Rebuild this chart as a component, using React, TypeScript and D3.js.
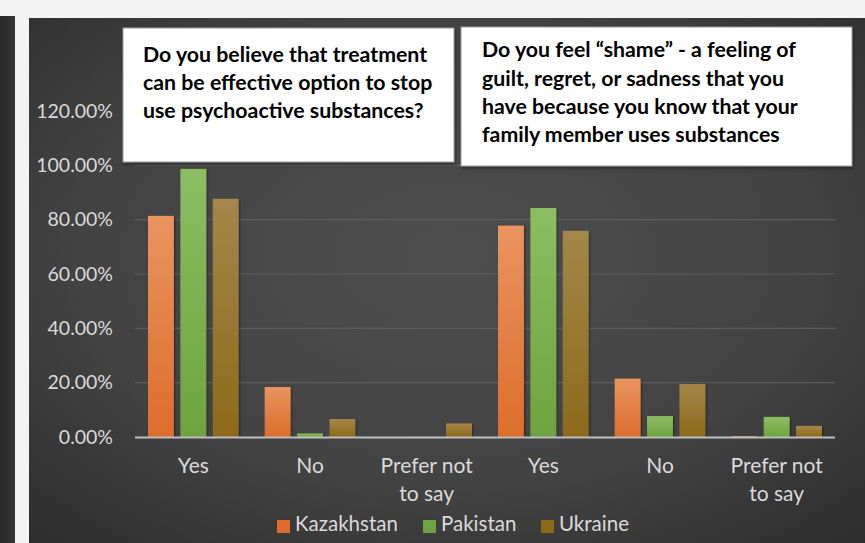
import React from "react";
import * as d3 from "d3";

const categories = ["Yes", "No", "Prefer not to say", "Yes", "No", "Prefer not to say"];
const series = ["Kazakhstan", "Pakistan", "Ukraine"];
const kazakhstan = [0.814, 0.184, 0.0, 0.778, 0.215, 0.003];
const pakistan = [0.987, 0.013, 0.0, 0.843, 0.077, 0.074];
const ukraine = [0.877, 0.066, 0.05, 0.759, 0.195, 0.041];
const yTicks = [0, 0.2, 0.4, 0.6, 0.8, 1.0, 1.2];
const question1 = ["Do you believe that treatment", "can be effective option to stop", "use psychoactive substances?"];
const question2 = [
  "Do you feel \u201Cshame\u201D - a feeling of",
  "guilt, regret, or sadness that you",
  "have because you know that your",
  "family member uses substances",
];

const W = 865;
const H = 543;
const FONT = "Lato, 'Open Sans', sans-serif";
const colors = [
  ["#ea9460", "#dc6d2c"],
  ["#8dbd64", "#6ea33f"],
  ["#a4864a", "#8c6a1a"],
];

export default function App() {
  const values = [kazakhstan, pakistan, ukraine];
  const x = d3.scaleBand<number>().domain(d3.range(categories.length)).range([135, 835]);
  const xs = d3.scaleBand<number>().domain([0, 1, 2]).range([13, x.bandwidth() - 13]).paddingInner(0.2);
  const y = d3.scaleLinear().domain([0, 1.2]).range([437, 111]);
  const fmt = (v: number) => d3.format(".2%")(v);

  return (
    <svg width={W} height={H} style={{ position: "absolute", left: 0, top: 0, display: "block" }}>
      <defs>
        <radialGradient id="bg" cx="0.5" cy="0.45" r="0.75">
          <stop offset="0" stopColor="#4e4e4e" />
          <stop offset="0.6" stopColor="#424242" />
          <stop offset="1" stopColor="#2c2c2c" />
        </radialGradient>
        <linearGradient id="strip" x1="0" x2="1" y1="0" y2="0">
          <stop offset="0" stopColor="#2a2a2a" />
          <stop offset="1" stopColor="#333333" />
        </linearGradient>
        {colors.map((c, i) => (
          <linearGradient key={i} id={`g${i}`} x1="0" x2="0" y1="0" y2="1">
            <stop offset="0" stopColor={c[0]} />
            <stop offset="1" stopColor={c[1]} />
          </linearGradient>
        ))}
        <filter id="shadow" x="-20%" y="-20%" width="140%" height="140%">
          <feDropShadow dx="1" dy="1" stdDeviation="1.2" floodColor="#000" floodOpacity="0.45" />
        </filter>
        <filter id="boxshadow" x="-5%" y="-5%" width="110%" height="115%">
          <feDropShadow dx="1" dy="2" stdDeviation="1.5" floodColor="#000" floodOpacity="0.4" />
        </filter>
      </defs>
      <rect x={0} y={0} width={W} height={H} fill="#f3f3f3" />
      <rect x={0} y={16} width={15} height={H - 16} fill="url(#strip)" />
      <rect x={29} y={18} width={W - 29} height={H - 18} fill="url(#bg)" />

      {yTicks.filter((t) => t > 0 && t <= 1).map((t) => (
        <line key={t} x1={135} x2={835} y1={y(t)} y2={y(t)} stroke="#5c5c5c" strokeWidth={1.2} />
      ))}

      {yTicks.map((t) => (
        <text key={t} x={113} y={y(t)} dy="0.35em" textAnchor="end" fill="#dadada" fontFamily={FONT} fontSize={19.5}>
          {fmt(t)}
        </text>
      ))}

      {values.map((vals, s) =>
        vals.map((v, i) => {
          const bx = (x(i) as number) + (xs(s) as number);
          return (
            <rect
              key={`${s}-${i}`}
              x={bx}
              y={y(v)}
              width={xs.bandwidth()}
              height={437 - y(v)}
              fill={`url(#g${s})`}
              filter="url(#shadow)"
            />
          );
        })
      )}

      <line x1={135} x2={835} y1={437.5} y2={437.5} stroke="#bfbfbf" strokeWidth={2} />

      {categories.map((c, i) => {
        const cx = (x(i) as number) + x.bandwidth() / 2;
        const lines = c === "Prefer not to say" ? ["Prefer not", "to say"] : [c];
        return lines.map((l, j) => (
          <text key={`${i}-${j}`} x={cx} y={466 + j * 28} dy="0.35em" textAnchor="middle" fill="#dadada" fontFamily={FONT} fontSize={21}>
            {l}
          </text>
        ));
      })}

      {series.map((s, i) => {
        const lx = [277, 423, 541][i];
        return (
          <g key={s}>
            <rect x={lx} y={520} width={13} height={13} fill={colors[i][1]} />
            <text x={lx + 18} y={524} dy="0.35em" fill="#dadada" fontFamily={FONT} fontSize={20.5}>
              {s}
            </text>
          </g>
        );
      })}

      <rect x={123} y={28} width={331} height={134} fill="#ffffff" stroke="#9a9a9a" strokeWidth={1} filter="url(#boxshadow)" />
      {question1.map((l, i) => (
        <text key={i} x={143} y={55 + i * 28} dy="0.35em" fill="#000" fontFamily={FONT} fontWeight={700} fontSize={21.3}>
          {l}
        </text>
      ))}
      <rect x={461} y={27} width={391} height={139} fill="#ffffff" stroke="#9a9a9a" strokeWidth={1} filter="url(#boxshadow)" />
      {question2.map((l, i) => (
        <text key={i} x={482} y={50 + i * 28.3} dy="0.35em" fill="#000" fontFamily={FONT} fontWeight={700} fontSize={21.3}>
          {l}
        </text>
      ))}
    </svg>
  );
}
